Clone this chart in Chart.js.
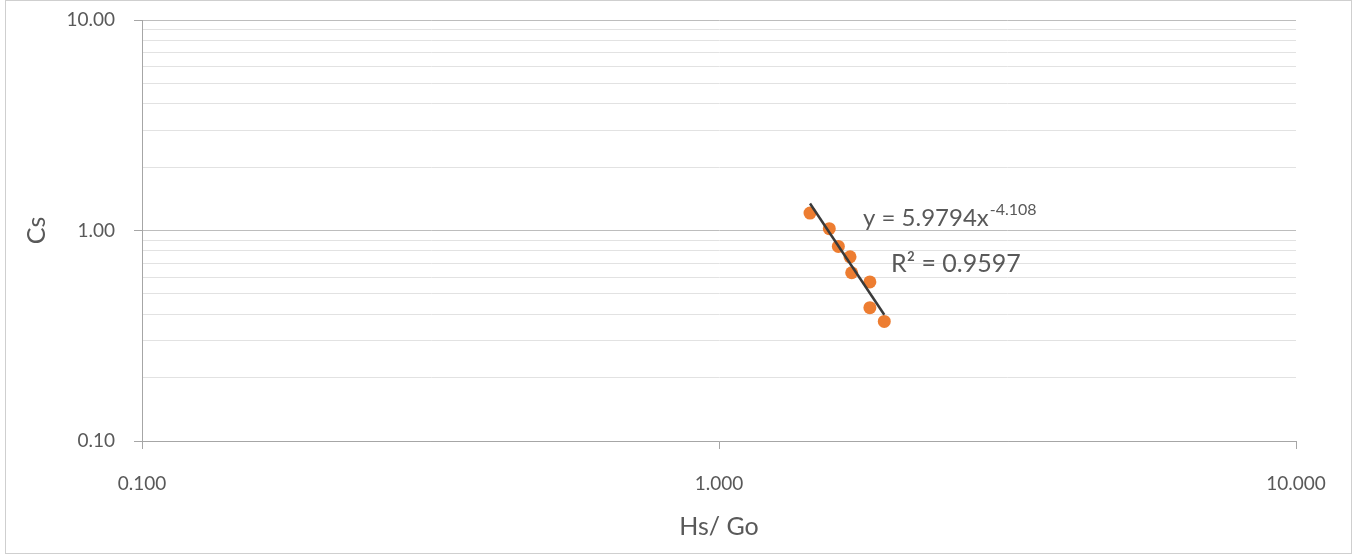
<!DOCTYPE html>
<html lang="en">
<head>
    <meta charset="UTF-8">
    <title>Cs vs Hs/ Go</title>
    <script src="https://cdn.jsdelivr.net/npm/chart.js"></script>
    <style>
        body { margin: 0; background: #fff; }
        #wrap { width: 1358px; height: 559px; }
    </style>
</head>
<body>
    <div id="wrap"><canvas id="csChart" width="1358" height="559"></canvas></div>
    <script>
        // measured points
        const hsGo = [1.438, 1.553, 1.610, 1.687, 1.698, 1.826, 1.826, 1.934];
        const cs = [1.21, 1.02, 0.84, 0.75, 0.63, 0.57, 0.43, 0.37];

        // power trendline y = a * x^b
        const trendA = 5.9794;
        const trendB = -4.108;
        const trendR2 = 0.9597;

        const yGridValues = [0.1, 0.2, 0.3, 0.4, 0.5, 0.6, 0.7, 0.8, 0.9, 1, 2, 3, 4, 5, 6, 7, 8, 9, 10];
        const yTickLabels = [0.1, 1, 10];
        const xTickLabels = [0.1, 1, 10];

        const textColor = '#595959';

        function isMajor(v, list) {
            return list.some(m => Math.abs(m - v) < 1e-9);
        }

        const points = hsGo.map((x, i) => ({ x: x, y: cs[i] }));
        const xMin = Math.min(...hsGo);
        const xMax = Math.max(...hsGo);
        const trendPoints = [xMin, xMax].map(x => ({ x: x, y: trendA * Math.pow(x, trendB) }));

        const frameAndLabel = {
            id: 'frameAndLabel',
            beforeDraw(chart) {
                const ctx = chart.ctx;
                ctx.save();
                ctx.strokeStyle = '#cfcfcf';
                ctx.lineWidth = 1;
                ctx.strokeRect(5.5, 0.5, 1346, 553);
                ctx.restore();
            },
            afterDatasetsDraw(chart) {
                const ctx = chart.ctx;
                ctx.save();
                ctx.fillStyle = textColor;
                ctx.textBaseline = 'alphabetic';
                ctx.textAlign = 'left';
                ctx.font = '24px Lato';
                const main = 'y = ' + trendA.toFixed(4) + 'x';
                ctx.fillText(main, 863, 226);
                const w = ctx.measureText(main).width;
                ctx.font = '16px Lato';
                ctx.fillText(trendB.toFixed(3), 863 + w + 1, 215);
                ctx.font = '25px Lato';
                ctx.fillText('R\u00B2 = ' + trendR2.toFixed(4), 891, 272);
                ctx.restore();
            }
        };

        new Chart(document.getElementById('csChart'), {
            type: 'scatter',
            data: {
                datasets: [
                    {
                        type: 'line',
                        label: 'Power trend',
                        data: trendPoints,
                        borderColor: '#3a3a3a',
                        borderWidth: 2.5,
                        pointRadius: 0,
                        fill: false,
                        order: 0
                    },
                    {
                        label: 'Cs',
                        data: points,
                        backgroundColor: '#ED7D31',
                        borderWidth: 0,
                        pointRadius: 6.5,
                        order: 1
                    }
                ]
            },
            options: {
                responsive: false,
                devicePixelRatio: 1,
                animation: false,
                layout: { padding: { left: 0, right: 62, top: 20, bottom: 0 } },
                plugins: {
                    legend: { display: false },
                    tooltip: { enabled: false }
                },
                scales: {
                    x: {
                        type: 'logarithmic',
                        min: 0.1,
                        max: 10,
                        afterFit(scale) { scale.height = 118; },
                        afterBuildTicks(scale) {
                            scale.ticks = xTickLabels.map(v => ({ value: v }));
                        },
                        border: { display: true, color: '#a6a6a6', width: 1 },
                        grid: {
                            drawOnChartArea: false,
                            drawTicks: true,
                            tickLength: 8,
                            tickColor: '#a6a6a6'
                        },
                        ticks: {
                            autoSkip: false,
                            maxRotation: 0,
                            padding: 23,
                            color: textColor,
                            font: { family: 'Lato', size: 19 },
                            callback: (v) => Number(v).toFixed(3)
                        },
                        title: {
                            display: true,
                            text: 'Hs/ Go',
                            color: textColor,
                            font: { family: 'Lato', size: 25 },
                            padding: { top: 0, bottom: 17 }
                        }
                    },
                    y: {
                        type: 'logarithmic',
                        min: 0.1,
                        max: 10,
                        afterFit(scale) {
                            scale.width = 142;
                            scale.paddingTop = 0;
                            scale.paddingBottom = 0;
                        },
                        afterBuildTicks(scale) {
                            scale.ticks = yGridValues.map(v => ({ value: v }));
                        },
                        border: { display: true, color: '#a6a6a6', width: 1 },
                        grid: {
                            drawTicks: true,
                            tickLength: 8,
                            color: (c) => isMajor(c.tick.value, yTickLabels) ? '#bdbdbd' : '#e2e2e2',
                            tickColor: (c) => isMajor(c.tick.value, yTickLabels) ? '#a6a6a6' : 'rgba(0,0,0,0)'
                        },
                        ticks: {
                            autoSkip: false,
                            padding: 19,
                            color: textColor,
                            font: { family: 'Lato', size: 19 },
                            callback: (v) => isMajor(v, yTickLabels) ? Number(v).toFixed(2) : ''
                        },
                        title: {
                            display: true,
                            text: 'Cs',
                            color: textColor,
                            font: { family: 'Lato', size: 25 },
                            padding: { top: 22, bottom: 0 }
                        }
                    }
                }
            },
            plugins: [frameAndLabel]
        });
    </script>
</body>
</html>
